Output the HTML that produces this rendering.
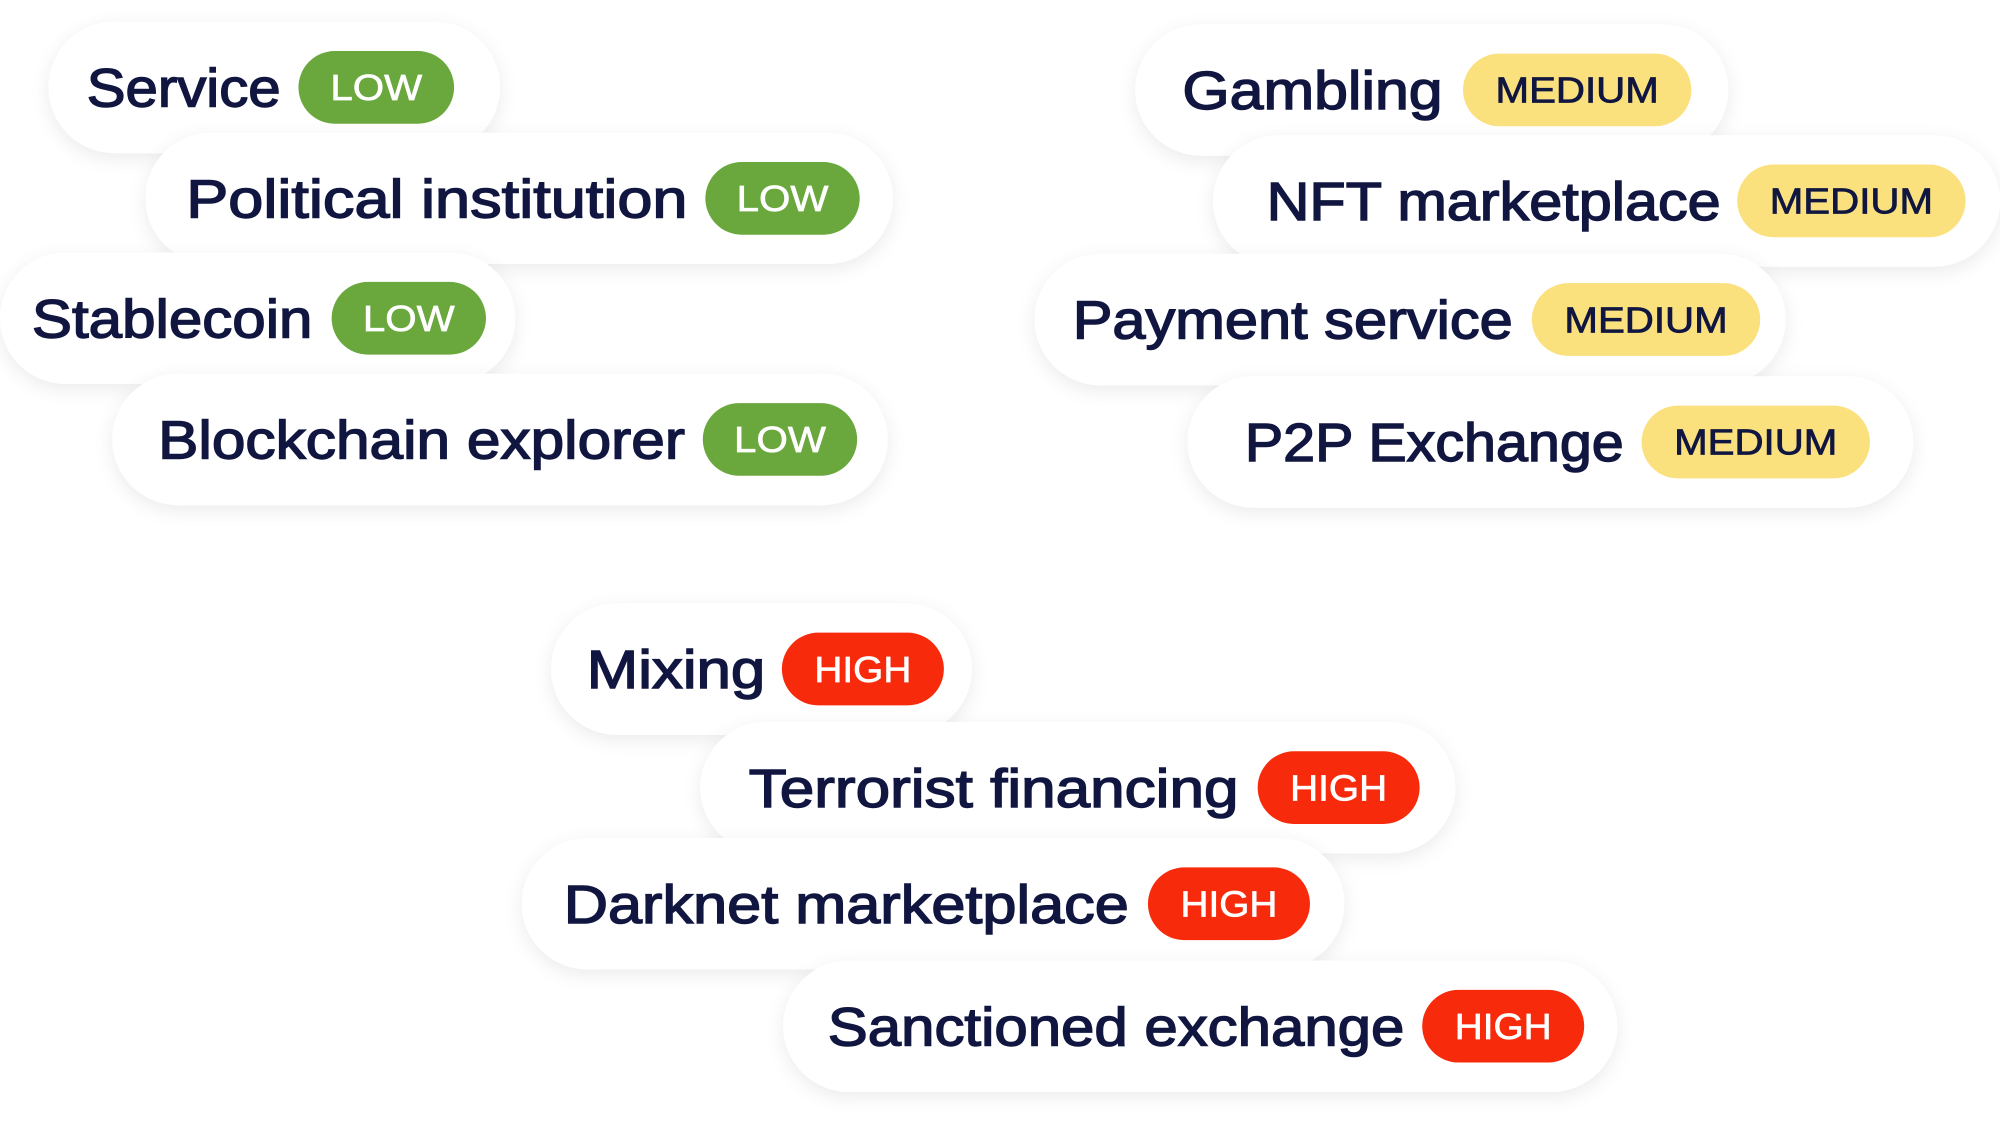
<!DOCTYPE html>
<html><head><meta charset="utf-8"><style>
html,body{margin:0;padding:0;background:#fff;width:2000px;height:1123px;overflow:hidden}
svg{display:block}
.t{font-family:"Liberation Sans",sans-serif;font-weight:normal;fill:#101640;stroke:#101640;stroke-width:1.1px;font-size:42px}
.b{font-family:"Liberation Sans",sans-serif;font-size:28px;fill:#fff;stroke:#fff;stroke-width:0.5px}
.bm{font-family:"Liberation Sans",sans-serif;font-size:28px;fill:#101640;stroke:#101640;stroke-width:0.6px}
</style></head><body>
<svg width="2000" height="1123" viewBox="0 0 1568 880.4" preserveAspectRatio="none">
<defs><filter id="s" x="-20%" y="-40%" width="140%" height="180%"><feDropShadow dx="0" dy="4" stdDeviation="7" flood-color="#000" flood-opacity="0.08"/></filter></defs>
<g id="pills"></g>
</svg>
<script>
var d=[
["Service",38,392,17,68,220,234,356,"LOW"],
["Political institution",114,700,104,146,539,553,674,"LOW"],
["Stablecoin",0,404,198,25,245,260,381,"LOW"],
["Blockchain explorer",88,696,293,124,537,551,672,"LOW"],
["Gambling",890,1355,19,927,1131,1147,1326,"MEDIUM"],
["NFT marketplace",951,1568,106,993,1349,1362,1541,"MEDIUM"],
["Payment service",811,1400,199,841,1186,1201,1380,"MEDIUM"],
["P2P Exchange",931,1500,295,976,1273,1287,1466,"MEDIUM"],
["Mixing",432,762,473,460,600,613,740,"HIGH"],
["Terrorist financing",549,1141,566,587,971,986,1113,"HIGH"],
["Darknet marketplace",409,1054,657,442,885,900,1027,"HIGH"],
["Sanctioned exchange",614,1268,753,649,1101,1115,1242,"HIGH"]];
var col={LOW:"#6aa83e",MEDIUM:"#fbe17e",HIGH:"#f72b0c"};
var tw={LOW:72,MEDIUM:128,HIGH:76};
var h="";
d.forEach(function(p){
 var cy=p[3]+51.5;
 h+='<rect filter="url(#s)" x="'+p[1]+'" y="'+p[3]+'" width="'+(p[2]-p[1])+'" height="103" rx="51.5" fill="#fff"/>';
 h+='<text class="t" x="'+p[4]+'" y="'+(cy+15)+'" textLength="'+(p[5]-p[4])+'" lengthAdjust="spacingAndGlyphs">'+p[0]+'</text>';
 h+='<rect x="'+p[6]+'" y="'+(cy-28.5)+'" width="'+(p[7]-p[6])+'" height="57" rx="28.5" fill="'+col[p[8]]+'"/>';
 var bx=(p[6]+p[7])/2;
 h+='<text class="'+(p[8]=="MEDIUM"?"bm":"b")+'" x="'+(bx-tw[p[8]]/2)+'" y="'+(cy+10)+'" textLength="'+tw[p[8]]+'" lengthAdjust="spacingAndGlyphs">'+p[8]+'</text>';
});
document.getElementById("pills").innerHTML=h;
</script>
</body></html>
